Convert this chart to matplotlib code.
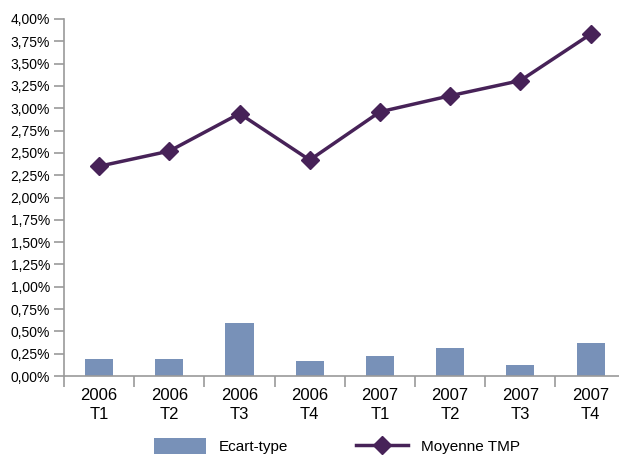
import matplotlib
matplotlib.use("Agg")
import matplotlib.pyplot as plt
from matplotlib.patches import Patch
from matplotlib.lines import Line2D
import numpy as np

categories = ["2006\nT1", "2006\nT2", "2006\nT3", "2006\nT4",
              "2007\nT1", "2007\nT2", "2007\nT3", "2007\nT4"]
ecart_type = [0.19, 0.19, 0.59, 0.17, 0.22, 0.31, 0.12, 0.37]
moyenne_tmp = [2.35, 2.52, 2.94, 2.42, 2.96, 3.14, 3.31, 3.83]
yticks = [i * 0.25 for i in range(17)]

plt.rcParams["font.family"] = ["Liberation Sans", "DejaVu Sans"]

bar_color = "#7891b8"
line_color = "#472258"
axis_color = "#9a9a9a"

fig = plt.figure(figsize=(6.19, 4.55), dpi=100)
W, H = 619, 455
ax = fig.add_axes([64 / W, 1 - 376 / H, 561.7 / W, 357 / H])

x = np.arange(len(categories))
bars = ax.bar(x, ecart_type, width=0.4, color=bar_color, label="Ecart-type", zorder=2)
line, = ax.plot(x, moyenne_tmp, color=line_color, lw=2.5, marker="D", markersize=9,
                label="Moyenne TMP", zorder=3)

ax.set_xlim(-0.5, len(categories) - 0.5)
ax.set_ylim(0, 4.0)
ax.set_yticks(yticks)
ax.set_yticklabels([f"{v:.2f}%".replace(".", ",") for v in yticks])
ax.set_xticks(x)
ax.set_xticklabels(categories, linespacing=1.3)
ax.set_xticks(np.arange(len(categories) + 1) - 0.5, minor=True)
ax.tick_params(axis="x", which="major", length=0, pad=9, labelsize=12)
ax.tick_params(axis="x", which="minor", length=8, color=axis_color, width=1.2, direction="out")
ax.tick_params(axis="y", length=7, color=axis_color, width=1.2, direction="out", pad=3, labelsize=10)

for s in ["top", "right"]:
    ax.spines[s].set_visible(False)
for s in ["left", "bottom"]:
    ax.spines[s].set_color(axis_color)
    ax.spines[s].set_linewidth(1.2)

common = dict(frameon=False, fontsize=11, handlelength=3.4, handleheight=1.2,
              handletextpad=0.85, borderpad=0, borderaxespad=0, loc="center left")
h1 = Patch(facecolor=bar_color, edgecolor="none")
h2 = Line2D([], [], color=line_color, lw=2.5, marker="D", markersize=9)
l1 = fig.legend([h1], ["Ecart-type"], bbox_to_anchor=(154 / W, 1 - 446 / H), **common)
l2 = fig.legend([h2], ["Moyenne TMP"], bbox_to_anchor=(356 / W, 1 - 446 / H), **common)

fig.savefig("out.png", dpi=100)
